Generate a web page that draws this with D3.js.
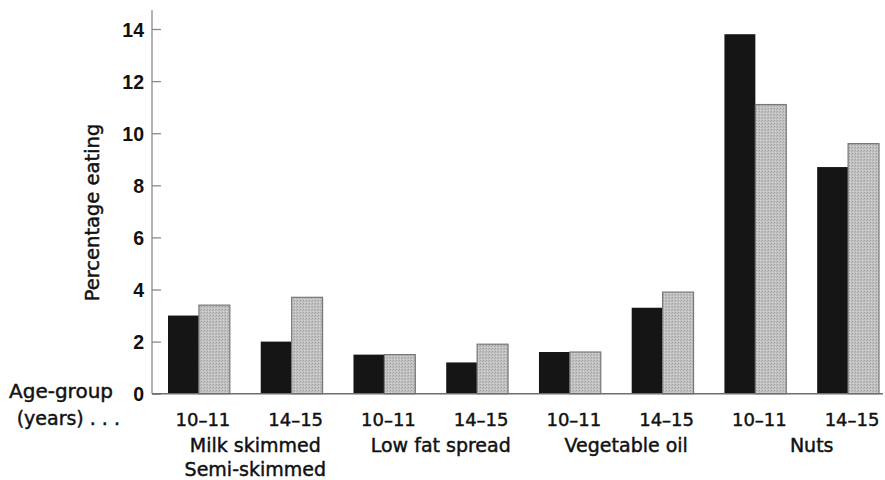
<!DOCTYPE html>
<html>
<head>
<meta charset="utf-8">
<script src="https://cdn.jsdelivr.net/npm/d3@7"></script>
<style>
  html, body { margin: 0; padding: 0; background: #fff; }
  svg { display: block; }
  .lbl { stroke: #111; stroke-width: 0.45px; }
</style>
</head>
<body>
<svg id="chart" width="885" height="480"></svg>
<script>
// ---- data ----
const groups = ["Milk skimmed", "Low fat spread", "Vegetable oil", "Nuts"];
const groupSecondLines = ["Semi-skimmed", "", "", ""];
const ageGroups = ["10–11", "14–15"];
const darkValues = [3.0, 2.0, 1.5, 1.2, 1.6, 3.3, 13.8, 8.7];
const lightValues = [3.4, 3.7, 1.5, 1.9, 1.6, 3.9, 11.1, 9.6];
const yTicks = [0, 2, 4, 6, 8, 10, 12, 14];
const yTitle = "Percentage eating";
const ageTitle = ["Age-group", "(years) . . ."];

// ---- build ----
const keys = [];
groups.forEach(g => ageGroups.forEach(a => keys.push(g + "|" + a)));

const svg = d3.select("#chart");

const defs = svg.append("defs");
const pat = defs.append("pattern")
  .attr("id", "stipple").attr("patternUnits", "userSpaceOnUse")
  .attr("width", 3).attr("height", 3);
pat.append("rect").attr("width", 3).attr("height", 3).attr("fill", "#c2c2c2");
pat.append("rect").attr("x", 0).attr("y", 0).attr("width", 1).attr("height", 1).attr("fill", "#9e9e9e");
pat.append("rect").attr("x", 2).attr("y", 1).attr("width", 1).attr("height", 1).attr("fill", "#aeaeae");
pat.append("rect").attr("x", 1).attr("y", 2).attr("width", 1).attr("height", 1).attr("fill", "#d6d6d6");

const x = d3.scaleBand().domain(keys).range([168, 879]).paddingInner(1/3).paddingOuter(0);
const y = d3.scaleLinear().domain([0, 14]).range([393.7, 29]);
const axisX = 152;

// y axis line
svg.append("line")
  .attr("x1", axisX).attr("x2", axisX)
  .attr("y1", y(0)).attr("y2", y(14) - 19)
  .attr("stroke", "#9a9a9a").attr("stroke-width", 1.5);

// ticks (inward) & labels via d3 axis
const yAxis = d3.axisRight(y).tickValues(yTicks).tickSize(9).tickFormat(d3.format("d"));
const ag = svg.append("g").attr("transform", `translate(${axisX},0)`).call(yAxis);
ag.select(".domain").remove();
ag.selectAll(".tick line").attr("stroke", "#8a8a8a").attr("stroke-width", 1.3);
ag.selectAll(".tick text")
  .attr("x", -8).attr("dy", "0.36em")
  .attr("text-anchor", "end")
  .attr("font-family", "'Liberation Sans', Arial, sans-serif")
  .attr("font-weight", "bold").attr("font-size", 19.5).attr("fill", "#111");

// bars
const bw = x.bandwidth() / 2;
const barG = svg.append("g");
barG.selectAll("rect.dark").data(keys).join("rect")
  .attr("class", "dark")
  .attr("x", d => x(d))
  .attr("y", (d, i) => y(darkValues[i]))
  .attr("width", bw)
  .attr("height", (d, i) => y(0) - y(darkValues[i]))
  .attr("fill", "#151515");
barG.selectAll("rect.light").data(keys).join("rect")
  .attr("class", "light")
  .attr("x", d => x(d) + bw)
  .attr("y", (d, i) => y(lightValues[i]))
  .attr("width", bw)
  .attr("height", (d, i) => y(0) - y(lightValues[i]))
  .attr("fill", "url(#stipple)")
  .attr("stroke", "#777").attr("stroke-width", 1.2);

// baseline
svg.append("line")
  .attr("x1", axisX).attr("x2", 883)
  .attr("y1", y(0)).attr("y2", y(0))
  .attr("stroke", "#6e6e6e").attr("stroke-width", 1.5);

const labelFont = "'DejaVu Sans', Verdana, sans-serif";

// y title
svg.append("text").attr("class", "lbl")
  .attr("transform", `translate(99,212.5) rotate(-90)`)
  .attr("text-anchor", "middle")
  .attr("font-family", labelFont).attr("font-size", 19.5).attr("fill", "#111")
  .text(yTitle);

// age-group title
svg.append("text").attr("class", "lbl")
  .attr("x", 113).attr("y", 398).attr("text-anchor", "end")
  .attr("font-family", labelFont).attr("font-size", 20).attr("fill", "#111")
  .text(ageTitle[0]);
svg.append("text").attr("class", "lbl")
  .attr("x", 120).attr("y", 425).attr("text-anchor", "end")
  .attr("font-family", labelFont).attr("font-size", 19).attr("fill", "#111")
  .text(ageTitle[1]);

// age labels
svg.append("g").selectAll("text").data(keys).join("text").attr("class", "lbl")
  .attr("x", d => x(d) + x.bandwidth() / 2 + 4)
  .attr("y", 426)
  .attr("text-anchor", "middle")
  .attr("font-family", labelFont).attr("font-size", 18).attr("fill", "#111")
  .text(d => d.split("|")[1]);

// group labels
const gl = svg.append("g");
groups.forEach((g, i) => {
  const k0 = g + "|" + ageGroups[0], k1 = g + "|" + ageGroups[1];
  const cx = (x(k0) + x(k1) + x.bandwidth()) / 2 + 10;
  gl.append("text").attr("class", "lbl")
    .attr("x", cx).attr("y", 452).attr("text-anchor", "middle")
    .attr("font-family", labelFont).attr("font-size", 19).attr("fill", "#111")
    .text(g);
  if (groupSecondLines[i]) {
    gl.append("text").attr("class", "lbl")
      .attr("x", cx).attr("y", 476).attr("text-anchor", "middle")
      .attr("font-family", labelFont).attr("font-size", 19).attr("fill", "#111")
      .text(groupSecondLines[i]);
  }
});
</script>
</body>
</html>
